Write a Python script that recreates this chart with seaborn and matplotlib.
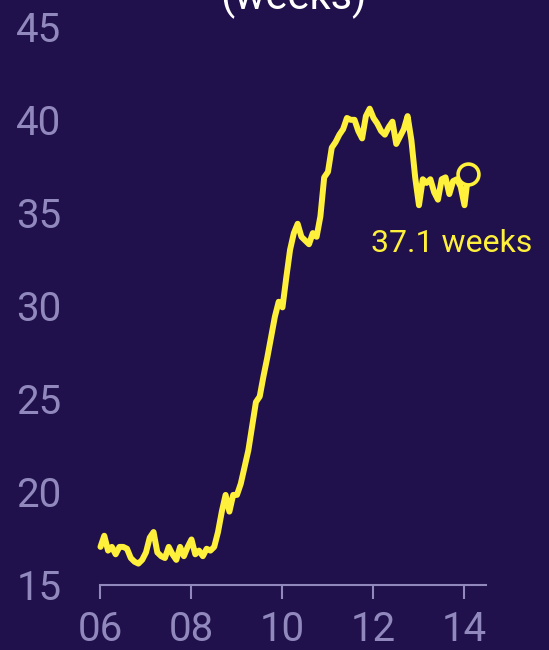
import numpy as np
import pandas as pd
import matplotlib
matplotlib.use("Agg")
import matplotlib.pyplot as plt
import seaborn as sns

# monthly average duration of unemployment, Jan 2006 .. Feb 2014 (weeks)
weeks = [
    17.0, 17.6, 16.8, 17.0, 16.6, 17.0, 17.0, 16.9, 16.4, 16.2,
    16.1, 16.3, 16.7, 17.5, 17.8, 16.7, 16.5, 16.4, 17.0, 16.6,
    16.3, 17.0, 16.5, 17.0, 17.4, 16.6, 16.8, 16.5, 16.9, 16.8,
    17.0, 17.8, 18.9, 19.8, 18.9, 19.8, 19.8, 20.4, 21.3, 22.2,
    23.5, 24.8, 25.1, 26.2, 27.2, 28.3, 29.4, 30.2, 29.9, 31.5,
    33.0, 33.9, 34.4, 33.7, 33.5, 33.3, 33.9, 33.7, 34.8, 36.9,
    37.2, 38.5, 38.8, 39.2, 39.5, 40.1, 40.0, 40.0, 39.4, 39.0,
    40.2, 40.6, 40.1, 39.8, 39.4, 39.2, 39.6, 39.9, 38.7, 39.1,
    39.5, 40.2, 38.9, 36.9, 35.4, 36.8, 36.6, 36.8, 36.1, 35.7,
    36.8, 36.9, 36.0, 36.7, 36.8, 36.4, 35.4, 37.1,
]
start_year = 2006
tick_years = [2006, 2008, 2010, 2012, 2014]
tick_labels = ["06", "08", "10", "12", "14"]
y_ticks = [15, 20, 25, 30, 35, 40, 45]

BG = "#20104b"
YELLOW = "#fff03c"
MUTED = "#9189bd"

df = pd.DataFrame({"year": start_year + np.arange(len(weeks)) / 12.0, "weeks": weeks})

sns.set_theme(style="white")
plt.rcParams["font.family"] = ["Roboto", "DejaVu Sans"]

fig = plt.figure(figsize=(5.49, 6.5), dpi=100, facecolor=BG)
ax = fig.add_axes([0.183, 0.1015, 0.702, 0.857])
ax.set_facecolor(BG)

sns.lineplot(data=df, x="year", y="weeks", ax=ax, color=YELLOW, linewidth=4.3, clip_on=False)

last = df.iloc[-1]
ax.plot(last["year"], last["weeks"], "o", ms=15, mfc=BG, mec=YELLOW, mew=2.6, clip_on=False, zorder=5)
ax.annotate(f"{last['weeks']:.1f} weeks", xy=(last["year"], last["weeks"]),
            xytext=(64, -70), textcoords="offset pixels", ha="right", va="center",
            color=YELLOW, fontsize=23)

ax.set_xlim(2006, 2014.47)
ax.set_ylim(15, 45)
ax.set_xticks(tick_years)
ax.set_xticklabels(tick_labels)
ax.set_yticks(y_ticks)
ax.set_xlabel("")
ax.set_ylabel("")

for s in ["top", "right", "left"]:
    ax.spines[s].set_visible(False)
ax.spines["bottom"].set_color(MUTED)
ax.spines["bottom"].set_linewidth(1.5)
ax.spines["bottom"].set_position(("outward", 1))

ax.tick_params(axis="x", direction="out", length=10, width=1.5, color=MUTED,
               labelcolor=MUTED, labelsize=29, pad=8, bottom=True)
ax.tick_params(axis="y", length=0, labelcolor=MUTED, labelsize=29, pad=28)

fig.text(0.534, 1 - 19 / 650, "(weeks)", ha="center", va="bottom", color="white", fontsize=30)

fig.savefig("out.png", dpi=100, facecolor=BG)
